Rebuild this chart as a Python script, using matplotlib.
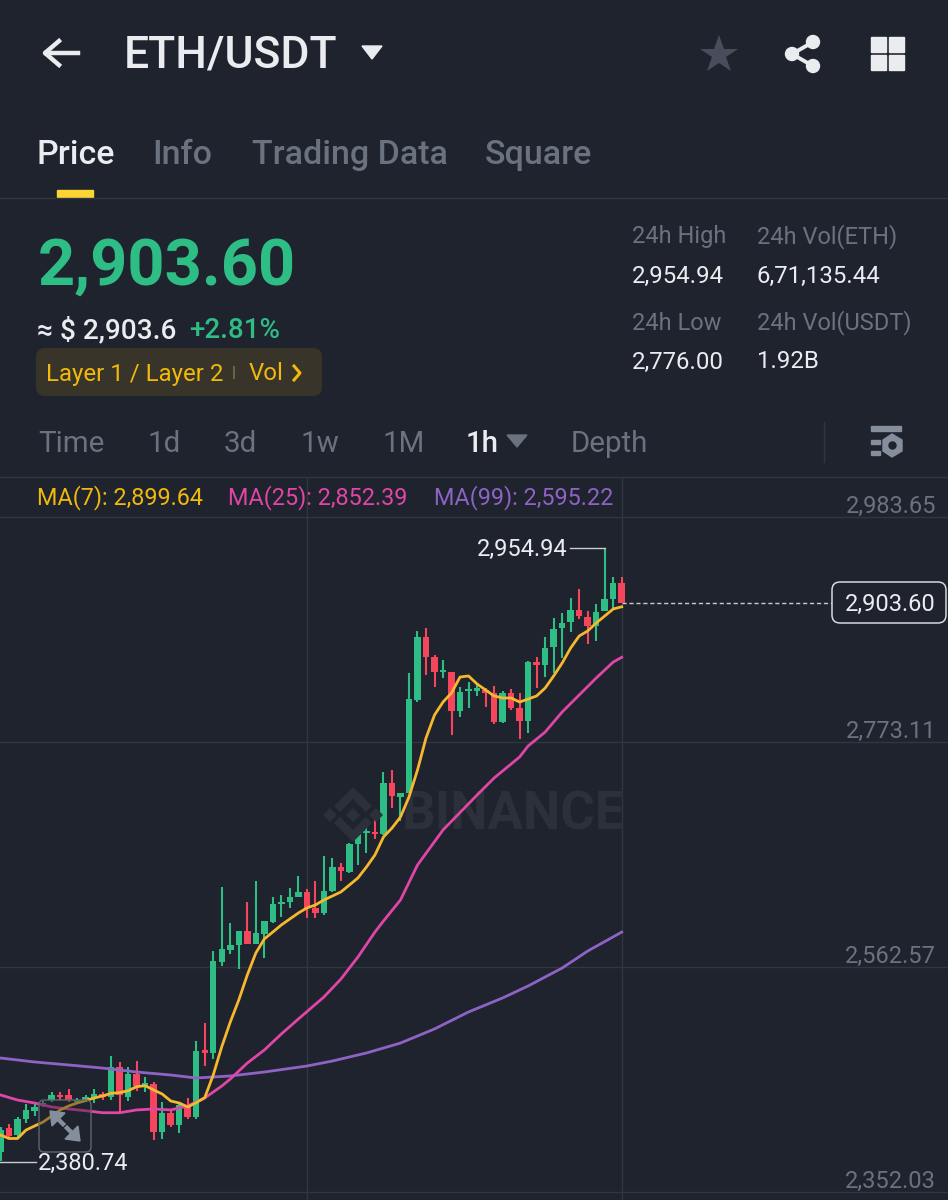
import matplotlib
matplotlib.use('Agg')
import matplotlib.pyplot as plt
from matplotlib.patches import FancyBboxPatch, Polygon, Rectangle, Circle

plt.rcParams['font.family'] = ['Roboto', 'DejaVu Sans']

# candles, oldest first
opens = [2389.5, 2411.9, 2405.4, 2420.3, 2427.8, 2433.4, 2438.1, 2442.8, 2442.8, 2436.2,
         2438.1, 2440.0, 2443.7, 2440.9, 2469.0, 2440.9, 2462.5, 2451.2, 2453.1, 2408.2,
         2425.9, 2414.7, 2432.5, 2422.2, 2484.9, 2482.1, 2567.2, 2578.5, 2583.2, 2596.3,
         2584.1, 2593.5, 2604.7, 2621.5, 2623.4, 2628.1, 2632.8, 2617.8, 2613.1, 2633.7,
         2656.1, 2651.5, 2677.7, 2688.0, 2689.0, 2687.1, 2734.7, 2721.6, 2725.4, 2812.4,
         2871.4, 2852.6, 2838.6, 2838.6, 2802.1, 2820.8, 2820.8, 2821.8, 2819.0, 2791.8,
         2819.0, 2804.9, 2792.7, 2847.9, 2845.2, 2862.0, 2879.8, 2885.4, 2896.6, 2890.1,
         2881.7, 2895.7, 2906.9, 2921.9]
highs = [2412.9, 2415.7, 2422.2, 2434.4, 2434.4, 2437.2, 2445.6, 2445.6, 2448.4, 2440.0,
         2442.8, 2448.4, 2445.6, 2479.3, 2473.7, 2469.0, 2474.6, 2459.6, 2455.0, 2436.2,
         2428.8, 2436.2, 2440.0, 2493.3, 2510.2, 2577.5, 2637.4, 2603.7, 2596.3, 2623.4,
         2643.0, 2605.6, 2628.1, 2630.0, 2636.5, 2647.7, 2635.6, 2643.0, 2666.4, 2664.6,
         2659.9, 2678.6, 2687.1, 2699.2, 2702.9, 2745.0, 2746.9, 2725.4, 2837.7, 2877.0,
         2879.8, 2854.5, 2849.8, 2838.6, 2824.6, 2829.2, 2828.3, 2823.6, 2825.5, 2820.8,
         2822.7, 2819.0, 2848.9, 2852.6, 2871.4, 2889.1, 2893.8, 2907.8, 2916.3, 2895.7,
         2902.2, 2954.94, 2927.5, 2927.5]
lows = [2380.74, 2403.5, 2402.6, 2416.6, 2423.1, 2431.6, 2436.2, 2438.1, 2436.2, 2434.4,
        2436.2, 2435.3, 2438.1, 2438.1, 2425.9, 2437.2, 2446.5, 2445.6, 2400.7, 2401.6,
        2412.9, 2407.2, 2420.3, 2420.3, 2469.9, 2476.5, 2563.5, 2574.7, 2560.7, 2584.1,
        2584.1, 2571.0, 2603.7, 2609.4, 2617.8, 2628.1, 2608.4, 2608.4, 2611.2, 2632.8,
        2643.0, 2650.5, 2658.0, 2669.2, 2682.4, 2686.1, 2711.4, 2699.2, 2725.4, 2810.5,
        2835.8, 2824.6, 2833.0, 2779.7, 2796.5, 2804.9, 2816.2, 2805.8, 2790.0, 2790.9,
        2803.0, 2776.0, 2781.5, 2823.6, 2833.9, 2837.7, 2851.7, 2876.0, 2888.2, 2864.8,
        2867.6, 2895.7, 2898.5, 2903.6]
closes = [2410.0, 2404.4, 2420.3, 2428.8, 2431.6, 2435.3, 2442.8, 2440.9, 2438.1, 2438.1,
          2440.9, 2443.7, 2440.9, 2469.0, 2442.8, 2462.5, 2451.2, 2454.0, 2408.2, 2425.9,
          2414.7, 2433.4, 2422.2, 2484.0, 2482.1, 2568.2, 2579.4, 2583.2, 2596.3, 2584.1,
          2594.4, 2605.6, 2621.5, 2623.4, 2628.1, 2632.8, 2617.8, 2613.1, 2633.7, 2656.1,
          2652.4, 2677.7, 2687.1, 2689.0, 2687.1, 2734.7, 2722.6, 2725.4, 2813.3, 2871.4,
          2852.6, 2838.6, 2840.5, 2802.1, 2819.9, 2821.8, 2823.6, 2819.0, 2791.8, 2819.0,
          2804.9, 2792.7, 2847.9, 2845.2, 2861.1, 2878.9, 2884.5, 2896.6, 2891.0, 2881.7,
          2894.8, 2906.9, 2921.9, 2903.6]

# moving averages
ma7 = [2405.4, 2402.1, 2402.1, 2410.0, 2413.8, 2417.5, 2423.1, 2428.8, 2432.5, 2435.3,
       2437.5, 2440.0, 2441.9, 2444.4, 2445.0, 2446.8, 2450.6, 2451.5, 2447.5, 2443.7,
       2437.2, 2435.3, 2431.6, 2435.6, 2440.3, 2461.6, 2488.0, 2511.1, 2531.7, 2555.1,
       2575.6, 2588.8, 2595.3, 2601.9, 2607.5, 2613.1, 2617.8, 2620.6, 2625.3, 2629.0,
       2632.8, 2639.3, 2645.9, 2656.1, 2667.4, 2684.2, 2692.6, 2702.9, 2721.6, 2746.9,
       2776.8, 2798.4, 2810.5, 2819.0, 2833.9, 2834.9, 2827.4, 2821.8, 2816.2, 2814.3,
       2814.3, 2810.5, 2813.3, 2816.2, 2823.6, 2834.9, 2847.0, 2861.1, 2872.3, 2877.0,
       2884.5, 2891.0, 2897.6, 2899.64]
ma25_idx = [0, 2, 4, 6, 8, 10, 12, 14, 16, 18, 20, 22, 24, 25, 26, 27, 29, 31, 33, 35, 38,
            40, 42, 44, 45, 47, 49, 52, 56, 58, 61, 62, 64, 66, 68, 70, 72, 73]
ma25 = [2442.8, 2438.1, 2435.3, 2431.6, 2429.7, 2428.1, 2426.2, 2426.2, 2428.8, 2429.7,
        2428.8, 2432.5, 2440.0, 2445.6, 2451.2, 2457.7, 2472.7, 2484.9, 2499.9, 2513.9,
        2534.5, 2551.3, 2571.9, 2595.3, 2605.6, 2625.3, 2658.0, 2690.8, 2723.5, 2739.4,
        2759.1, 2769.4, 2782.4, 2801.2, 2817.1, 2833.0, 2847.9, 2852.39]
ma99_idx = [0, 4, 8, 12, 16, 20, 23, 27, 31, 36, 39, 43, 47, 51, 55, 59, 62, 66, 69, 73]
ma99 = [2477.4, 2473.7, 2470.9, 2468.0, 2464.3, 2461.5, 2458.7, 2460.6, 2464.3, 2469.9,
        2474.6, 2482.1, 2491.4, 2504.6, 2520.5, 2533.6, 2544.8, 2561.6, 2577.5, 2595.22]

price_ticks = [2983.65, 2773.11, 2562.57, 2352.03]
price_now = 2903.60
price_high = 2954.94
price_low = 2380.74

tabs = ['Price', 'Info', 'Trading Data', 'Square']
intervals = ['Time', '1d', '3d', '1w', '1M', '1h', 'Depth']

BG = '#1e232d'
GRID = '#31363f'
GREEN = '#2ebd85'
RED = '#f6465d'
YELLOW = '#f0b90b'
PINK = '#e045a8'
PURPLE = '#8e63c5'
GRAY = '#848e9c'
DIM = '#6a7280'
WHITE = '#eaecef'
MARK = '#2b303a'

fig = plt.figure(figsize=(9.48, 12), dpi=100, facecolor=BG)

# ---- chart, drawn below the header
ax = fig.add_axes([0, 0, 1, 723 / 1200])
ax.set_facecolor(BG)
ax.set_xlim(-0.06, 111.34)
ax.set_ylim(2344.54, 3021.08)
ax.set_yticks(price_ticks)
ax.set_xticks([36, 73])
ax.tick_params(length=0, labelleft=False, labelbottom=False)
ax.grid(True, color=GRID, lw=1.0)
ax.set_axisbelow(True)
for s in ax.spines.values():
    s.set_visible(False)

# watermark
ax.text(60.3, 2705, 'BINANCE', color=MARK, fontsize=38, fontweight='bold',
        ha='center', va='center', zorder=1)

for i in range(len(opens)):
    col = GREEN if closes[i] >= opens[i] else RED
    ax.vlines(i, lows[i], highs[i], color=col, lw=1.5, zorder=3)
    bottom = min(opens[i], closes[i])
    height = max(abs(closes[i] - opens[i]), 1.5)
    ax.bar(i, height, bottom=bottom, width=0.76, color=col, zorder=3)

ax.plot(ma99_idx, ma99, color=PURPLE, lw=2, zorder=4)
ax.plot(ma25_idx, ma25, color=PINK, lw=2, zorder=4)
ax.plot(range(len(ma7)), ma7, color='#f5b82e', lw=2, zorder=5)

# current price line
ax.plot([73, 97.7], [price_now, price_now], color='#c8ccd2', lw=1, ls=(0, (3, 2)), zorder=2)

# ---- everything else in pixel coordinates
ui = fig.add_axes([0, 0, 1, 1])
ui.set_xlim(0, 948)
ui.set_ylim(1200, 0)
ui.axis('off')
ui.patch.set_alpha(0)


def label(x, y, s, color=WHITE, size=24, weight='normal', ha='left'):
    ui.text(x, y + 2, s, color=color, fontsize=size * 0.72, fontweight=weight, ha=ha, va='center')


# top bar
ui.plot([46, 78], [53, 53], color=WHITE, lw=3.2)
ui.plot([59, 45, 59], [41, 53, 65], color=WHITE, lw=3.2)
label(124, 53, 'ETH/USDT', size=44.5, weight='medium')
ui.add_patch(Polygon([[362, 46], [382, 46], [372, 59]], color=WHITE))
ui.plot(719, 55, marker='*', ms=29, color='#474d5a', mew=0)
for cx, cy in [(792, 54), (813, 42), (813, 66)]:
    ui.add_patch(Circle((cx, cy), 6.5, color=WHITE))
ui.plot([813, 792, 813], [42, 54, 66], color=WHITE, lw=2.8)
for cx, cy in [(871, 37), (889, 37), (871, 55), (889, 55)]:
    ui.add_patch(Rectangle((cx, cy), 15.5, 14.5, color=WHITE))

# tabs
tab_x = [37, 152, 252, 485]
for x, t in zip(tab_x, tabs):
    label(x, 153, t, color=WHITE if t == 'Price' else DIM, size=34, weight='medium')
ui.add_patch(Rectangle((57, 190), 36, 7, color='#fcd535'))
ui.plot([0, 948], [197.5, 197.5], color=GRID, lw=1)

# price block
label(38, 265, '2,903.60', color=GREEN, size=65, weight='bold')
label(37, 328, '≈ $ 2,903.6', size=28, weight='medium')
label(189, 328, '+2.81%', color=GREEN, size=27.8, weight='medium')
ui.add_patch(FancyBboxPatch((42, 354), 274, 36, boxstyle='round,pad=6,rounding_size=9',
                            color='#38342a', lw=0))
label(46, 372, 'Layer 1 / Layer 2', color=YELLOW, size=24)
ui.plot([234, 234], [367, 378], color='#6b6240', lw=1.5)
label(249, 372, 'Vol', color=YELLOW, size=24)
ui.plot([294, 300, 294], [366, 373, 380], color=YELLOW, lw=2.2)

# 24h block
label(632, 235, '24h High', color=DIM, size=23.6)
label(757, 235, '24h Vol(ETH)', color=DIM, size=23.6)
label(632, 274, '2,954.94', size=24)
label(757, 274, '6,71,135.44', size=24)
label(632, 321, '24h Low', color=DIM, size=23.6)
label(757, 321, '24h Vol(USDT)', color=DIM, size=23.6)
label(632, 360, '2,776.00', size=24)
label(757, 360, '1.92B', size=24)

# interval row
interval_x = [38, 148, 224, 301, 383, 466, 571]
for x, t in zip(interval_x, intervals):
    if t == '1h':
        label(x, 442, t, size=29.5, weight='medium')
    else:
        label(x, 442, t, color=DIM, size=29.5)
ui.add_patch(Polygon([[507, 435], [527, 435], [517, 447]], color=DIM))
ui.plot([824.5, 824.5], [422, 462], color=GRID, lw=1)
ui.add_patch(Rectangle((871, 426), 30, 5, color=GRAY))
ui.add_patch(Rectangle((871, 440), 9, 4, color=GRAY))
ui.add_patch(Rectangle((871, 451), 9, 4, color=GRAY))
ui.add_patch(Polygon([[892, 434], [902, 440], [902, 451], [892, 457], [883, 451], [883, 440]],
                     color=GRAY))
ui.add_patch(Circle((892.5, 445.5), 3.5, color=BG))
ui.plot([0, 948], [477, 477], color=GRID, lw=1)

# moving average labels
label(37, 496, 'MA(7): 2,899.64', color=YELLOW, size=23.4)
label(228, 496, 'MA(25): 2,852.39', color=PINK, size=23.4)
label(434, 496, 'MA(99): 2,595.22', color=PURPLE, size=23.4)

# axis labels sit just above their grid lines
for y, p in zip([504, 729, 954, 1179], price_ticks):
    label(936, y, f'{p:,.2f}', color=DIM, size=23.6, ha='right')

ui.add_patch(FancyBboxPatch((836, 586), 106, 33, boxstyle='round,pad=4,rounding_size=8',
                            fc=BG, ec='#d5d8dc', lw=1.1, zorder=5))
ui.text(890, 604, f'{price_now:,.2f}', color=WHITE, fontsize=23.6 * 0.72, ha='center',
        va='center', zorder=6)

# high and low markers
label(477, 547, f'{price_high:,.2f}', size=23.6)
ui.plot([570, 605], [547.7, 547.7], color='#c8ccd2', lw=1)
label(38, 1161, f'{price_low:,.2f}', size=23.6)
ui.plot([0, 36], [1161.7, 1161.7], color='#c8ccd2', lw=1)

# expand button
ui.add_patch(FancyBboxPatch((43, 1104), 44, 44, boxstyle='round,pad=4,rounding_size=5',
                             fc='#1e232d66', ec='#5f6670', lw=1))
ui.plot([56, 63], [1117, 1124], color=GRAY, lw=3.2)
ui.plot([74, 67], [1135, 1128], color=GRAY, lw=3.2)
ui.add_patch(Polygon([[50, 1111], [65, 1113], [52, 1126]], color=GRAY))
ui.add_patch(Polygon([[80, 1141], [65, 1139], [78, 1126]], color=GRAY))

# logo part of the watermark
ui.add_patch(Polygon([[353, 787], [372, 806], [366, 812], [353, 799], [340, 812], [334, 806]],
                     fc=MARK, lw=0, zorder=0.5))
ui.add_patch(Polygon([[353, 842], [372, 823], [366, 817], [353, 830], [340, 817], [334, 823]],
                     fc=MARK, lw=0, zorder=0.5))
for cx in [330, 353, 376]:
    ui.add_patch(Polygon([[cx - 7, 815], [cx, 808], [cx + 7, 815], [cx, 822]],
                         fc=MARK, lw=0, zorder=0.5))

fig.savefig('out.png', dpi=100, facecolor=BG)
